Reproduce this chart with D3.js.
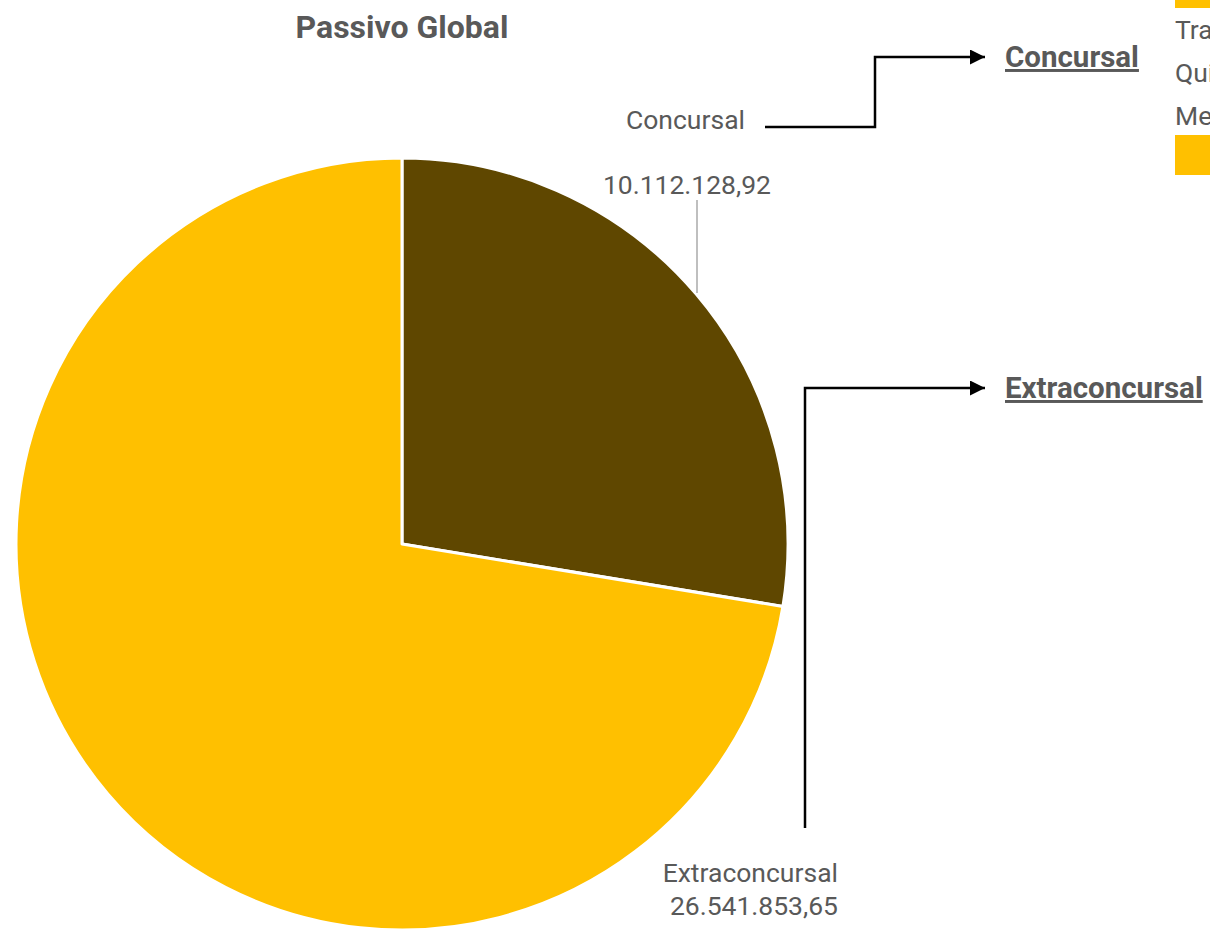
<!DOCTYPE html>
<html>
  <head>
    <meta charset="utf-8">
    <title>Passivo Global</title>
    <style>
      body { margin: 0; background: #fff; }
      text { font-family: Roboto, "Noto Sans", sans-serif; fill: #595959; }
    </style>
  </head>
  <body>
    <div class="chart-container"></div>
    <script src="https://cdn.jsdelivr.net/npm/d3@7"></script>
    <script>

var categories = ['Concursal', 'Extraconcursal'];
var values = [10112128.92, 26541853.65];
var valueLabels = ['10.112.128,92', '26.541.853,65'];
var colors = ['#5f4700', '#ffc000'];
var sideLinks = ['Concursal', 'Extraconcursal'];
var cutLegend = ['Trabalhista', 'Quirografário', 'Me EPP'];

var width = 1210;
var height = 930;
var cx = 402, cy = 544, radius = 386;

var svg = d3.select('.chart-container').append('svg')
    .attr('width', width)
    .attr('height', height);

svg.append('defs').append('marker')
    .attr('id', 'arrow')
    .attr('viewBox', '0 0 10 10')
    .attr('refX', 10).attr('refY', 5)
    .attr('markerWidth', 6).attr('markerHeight', 6)
    .attr('markerUnits', 'strokeWidth')
    .attr('orient', 'auto')
  .append('path')
    .attr('d', 'M0,0L10,5L0,10Z')
    .style('fill', '#000');

svg.append('text')
    .attr('x', cx)
    .attr('y', 38)
    .attr('text-anchor', 'middle')
    .style('font-size', '32px')
    .style('font-weight', 'bold')
    .text('Passivo Global');

var pie = d3.pie().sort(null)(values);
var arc = d3.arc().innerRadius(0).outerRadius(radius);

var g = svg.append('g')
    .attr('transform', 'translate(' + cx + ',' + cy + ')');

g.selectAll('path.slice')
    .data(pie)
  .enter().append('path')
    .attr('class', 'slice')
    .attr('d', arc)
    .style('fill', function (d, i) { return colors[i]; })
    .style('stroke', '#fff')
    .style('stroke-width', 3)
    .style('stroke-linejoin', 'round');

// slice labels
var labelSize = '26.5px';

svg.append('line')
    .attr('x1', 697).attr('x2', 697)
    .attr('y1', 200).attr('y2', 293)
    .style('stroke', '#aaa')
    .style('stroke-width', 1.5);

svg.append('text')
    .attr('x', 771).attr('y', 194)
    .attr('text-anchor', 'end')
    .style('font-size', labelSize)
    .text(valueLabels[0]);

svg.append('text')
    .attr('x', 745).attr('y', 129)
    .attr('text-anchor', 'end')
    .style('font-size', labelSize)
    .text(categories[0]);

svg.append('text')
    .attr('x', 838).attr('y', 882)
    .attr('text-anchor', 'end')
    .style('font-size', labelSize)
    .text(categories[1]);

svg.append('text')
    .attr('x', 838).attr('y', 915)
    .attr('text-anchor', 'end')
    .style('font-size', labelSize)
    .text(valueLabels[1]);

// connectors to side headings
var connectors = [
  [[765, 127], [875, 127], [875, 57], [985, 57]],
  [[805, 828], [805, 388], [985, 388]]
];

svg.selectAll('path.conn')
    .data(connectors)
  .enter().append('path')
    .attr('class', 'conn')
    .attr('d', d3.line())
    .style('fill', 'none')
    .style('stroke', '#000')
    .style('stroke-width', 2.5)
    .attr('marker-end', 'url(#arrow)');

svg.selectAll('text.side')
    .data(sideLinks)
  .enter().append('text')
    .attr('class', 'side')
    .attr('x', 1005)
    .attr('y', function (d, i) { return connectors[i][connectors[i].length - 1][1] + 10; })
    .style('font-size', '29.5px')
    .style('font-weight', 'bold')
    .style('text-decoration', 'underline')
    .text(function (d) { return d; });

// legend cut at the right edge
svg.append('rect')
    .attr('x', 1175).attr('y', -10)
    .attr('width', 60).attr('height', 18)
    .style('fill', colors[1]);

svg.selectAll('text.cut')
    .data(cutLegend)
  .enter().append('text')
    .attr('class', 'cut')
    .attr('x', 1175)
    .attr('y', function (d, i) { return 39 + i * 43; })
    .style('font-size', labelSize)
    .text(function (d) { return d; });

svg.append('rect')
    .attr('x', 1175).attr('y', 135)
    .attr('width', 60).attr('height', 40)
    .style('fill', colors[1]);

    </script>
  </body>
</html>
